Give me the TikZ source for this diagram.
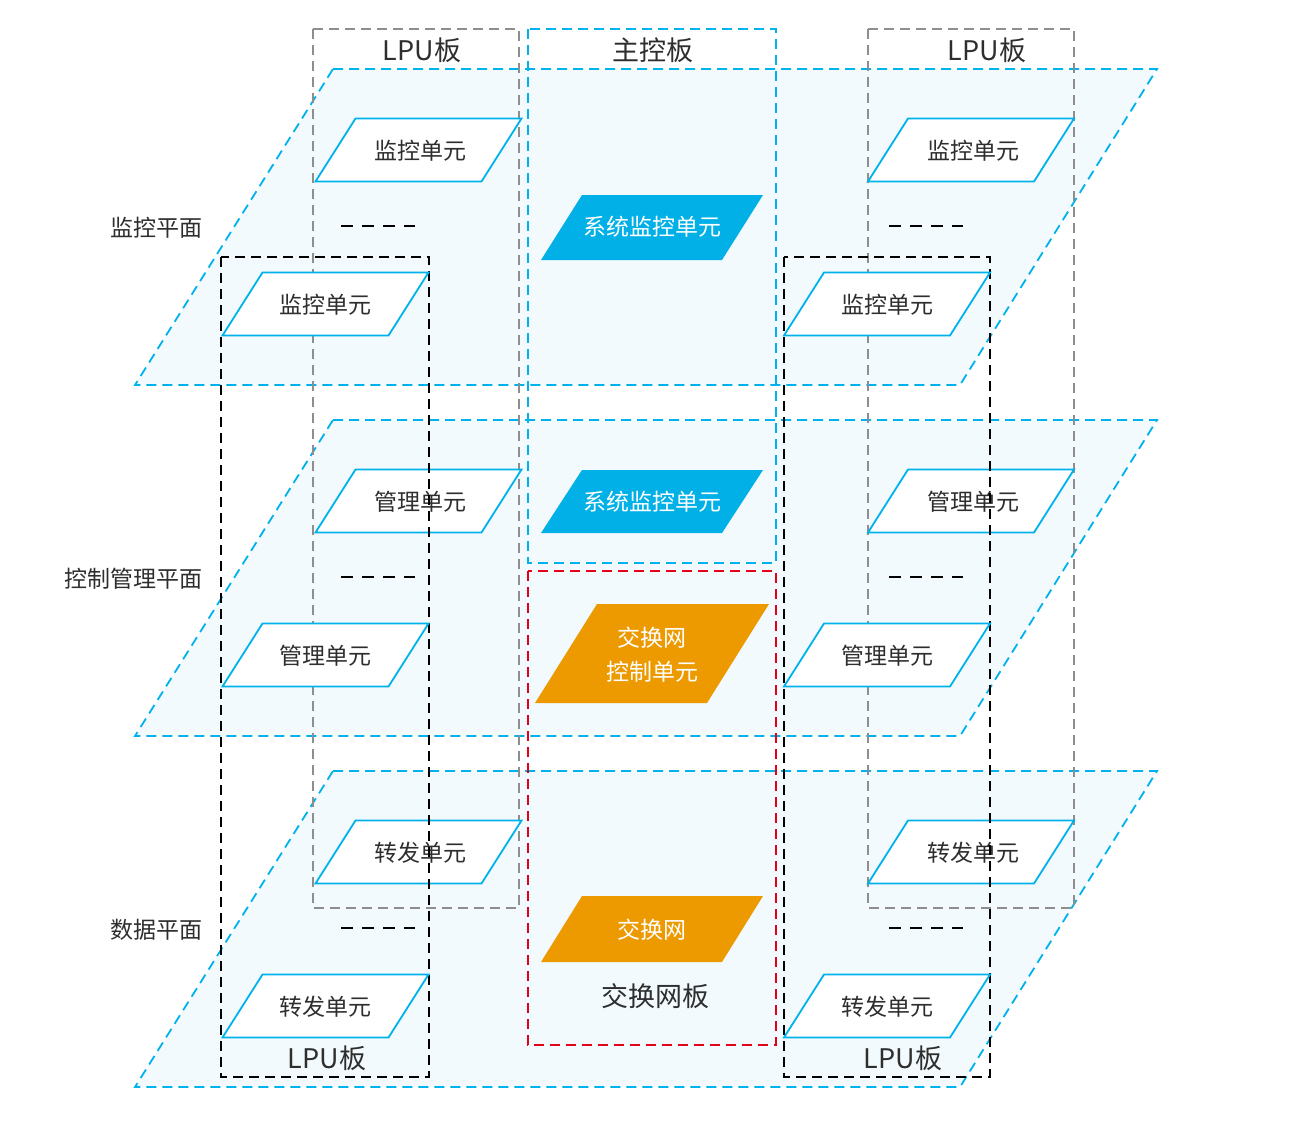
\documentclass[tikz,border=0pt]{standalone}
\usepackage{fontspec}
\setmainfont{Noto Sans CJK SC}
\definecolor{lineblue}{HTML}{00B2EC}
\definecolor{planefill}{HTML}{F2FAFD}
\definecolor{sysblue}{HTML}{00B0E6}
\definecolor{swchorange}{HTML}{EC9A00}
\definecolor{boardgray}{HTML}{8E8E8E}
\definecolor{boardred}{HTML}{E2001A}
\definecolor{darktext}{HTML}{2E2E2E}
\begin{document}
\begin{tikzpicture}[x=1pt,y=-1pt,
    plane/.style={draw=lineblue,fill=planefill,line width=1.8pt,dash pattern=on 10pt off 6pt},
    backboard/.style={draw=boardgray,line width=1.6pt,dash pattern=on 10pt off 6pt},
    frontboard/.style={draw=black,line width=1.6pt,dash pattern=on 10pt off 6pt},
    mainboard/.style={draw=lineblue,line width=1.6pt,dash pattern=on 10pt off 6pt},
    switchboard/.style={draw=boardred,line width=1.6pt,dash pattern=on 10pt off 6pt},
    gapdash/.style={draw=black,line width=1.8pt,dash pattern=on 12pt off 9pt},
    unitbox/.style={draw=lineblue,fill=white,line width=1.8pt},
    sysbox/.style={fill=sysblue},
    swbox/.style={fill=swchorange},
    unittext/.style={font=\fontsize{23}{34}\selectfont,text=darktext,inner sep=0pt,align=center},
    filledtext/.style={unittext,text=white},
    boardtext/.style={font=\fontsize{27}{27}\selectfont,text=darktext,inner sep=0pt}]
    \useasboundingbox (0,0) rectangle (1294,1124);
    % three planes
    \foreach \t in {69,420,771}
        \filldraw[plane] (333,\t) -- (1157,\t) -- (960,\t+316) -- (135,\t+316) -- cycle;
    \foreach \lbl [count=\i] in {监控平面,控制管理平面,数据平面}
        \node[unittext,anchor=east] (plane\i) at (203,228+351*\i-351) {\lbl};
    % boards behind
    \draw[backboard] (313,29) rectangle (519,908);
    \draw[backboard] (868,29) rectangle (1074,908);
    \draw[mainboard] (528,29) rectangle (776,563);
    \draw[switchboard] (528,571) rectangle (776,1045);
    \node[boardtext] (lpuA) at (422,50) {LPU板};
    \node[boardtext] (mpu) at (653,50) {主控板};
    \node[boardtext] (lpuB) at (987,50) {LPU板};
    \node[boardtext] (sfu) at (655,996) {交换网板};
    % back units
    \foreach \u [count=\i] in {监控单元,管理单元,转发单元} {
        \foreach \cx/\side in {418.5/L,971/R} {
            \filldraw[unitbox] (\cx-103,\i*351-169.5) -- ++(166,0) -- ++(40,-63) -- ++(-166,0) -- cycle;
            \node[unittext] (back\side\i) at (\cx+2,\i*351-200.5) {\u};
        }
        \draw[gapdash] (341,\i*351-125) -- (415,\i*351-125);
        \draw[gapdash] (889,\i*351-125) -- (963,\i*351-125);
    }
    % main board and switch board units
    \fill[sysbox] (541,260) -- (722,260) -- (763,195) -- (582,195) -- cycle;
    \node[filledtext] (sysmon1) at (652,227) {系统监控单元};
    \fill[sysbox] (541,533) -- (722,533) -- (763,470) -- (582,470) -- cycle;
    \node[filledtext] (sysmon2) at (652,502) {系统监控单元};
    \fill[swbox] (535,703) -- (707,703) -- (769,604) -- (597,604) -- cycle;
    \node[filledtext] (swctrl) at (652,655) {交换网\\控制单元};
    \fill[swbox] (541,962) -- (722,962) -- (763,896) -- (582,896) -- cycle;
    \node[filledtext] (swnet) at (652,930) {交换网};
    % boards in front
    \draw[frontboard] (221,257) rectangle (429,1077);
    \draw[frontboard] (784,257) rectangle (990,1077);
    \node[boardtext] (lpuC) at (327,1058) {LPU板};
    \node[boardtext] (lpuD) at (903,1058) {LPU板};
    % front units
    \foreach \u [count=\i] in {监控单元,管理单元,转发单元} {
        \foreach \cx/\side in {325.5/L,887/R} {
            \filldraw[unitbox] (\cx-103,\i*351-15.5) -- ++(166,0) -- ++(40,-63) -- ++(-166,0) -- cycle;
            \node[unittext] (front\side\i) at (\cx,\i*351-46.5) {\u};
        }
    }
\end{tikzpicture}
\end{document}
